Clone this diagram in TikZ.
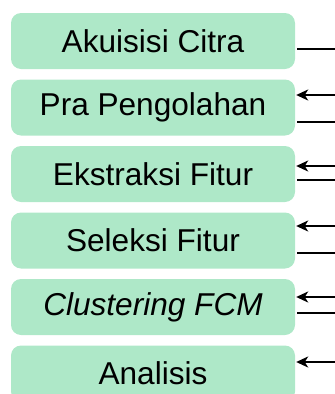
\documentclass[tikz,border=0pt]{standalone}
\usepackage{fontspec}
\setmainfont{Liberation Sans}
\usetikzlibrary{arrows.meta}
\definecolor{boxgreen}{RGB}{174,232,200}
\tikzset{
  stepbox/.style={fill=boxgreen, draw=none, rounded corners=10pt, minimum width=284pt, minimum height=56pt, inner sep=0pt, font=\fontsize{31.6}{36}\selectfont},
  feed/.style={line width=2.2pt, -{Stealth[length=12pt,width=11pt,inset=3.5pt]}},
  outl/.style={line width=2.2pt}
}
\begin{document}
\begin{tikzpicture}[x=1pt,y=-1pt]
\useasboundingbox (0,0) rectangle (335,394);
\node[stepbox] (a) at (153,41) {Akuisisi Citra};
\node[stepbox] (b) at (153,107.5) {Pra Pengolahan};
\node[stepbox] (c) at (153,174) {Ekstraksi Fitur};
\node[stepbox] (d) at (153,240.5) {Seleksi Fitur};
\node[stepbox] (e) at (153,307) {\itshape Clustering FCM};
\node[stepbox] (f) at (153,373.5) {Analisis};
\coordinate (a1) at (340,49);
\coordinate (b0) at (340,95);
\coordinate (b1) at (340,122);
\coordinate (c0) at (340,166);
\coordinate (c1) at (340,180);
\coordinate (d0) at (340,226);
\coordinate (d1) at (340,253);
\coordinate (e0) at (340,297);
\coordinate (e1) at (340,313);
\coordinate (f0) at (340,362);
\draw[outl] (a.east |- a1) ++(2,0) -- (a1);
\draw[feed] (b0) -- ([xshift=1pt]b.east |- b0);
\draw[outl] (b.east |- b1) ++(2,0) -- (b1);
\draw[feed] (c0) -- ([xshift=1pt]c.east |- c0);
\draw[outl] (c.east |- c1) ++(2,0) -- (c1);
\draw[feed] (d0) -- ([xshift=1pt]d.east |- d0);
\draw[outl] (d.east |- d1) ++(2,0) -- (d1);
\draw[feed] (e0) -- ([xshift=1pt]e.east |- e0);
\draw[outl] (e.east |- e1) ++(2,0) -- (e1);
\draw[feed] (f0) -- ([xshift=1pt]f.east |- f0);
\end{tikzpicture}
\end{document}
